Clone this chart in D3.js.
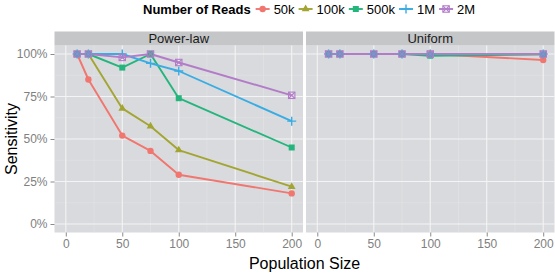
<!DOCTYPE html>
<html><head><meta charset="utf-8">
<script src="https://cdn.jsdelivr.net/npm/d3@7"></script>
<style>
body{margin:0;background:#fff}
svg{display:block;font-family:"Liberation Sans",Arial,Helvetica,sans-serif}
</style>
</head><body>
<svg id="c" width="555" height="274"></svg>
<script>
// ---- data ----
const popSizes = [10, 20, 50, 75, 100, 200];
const readLevels = ["50k", "100k", "500k", "1M", "2M"];
const facets = ["Power-law", "Uniform"];
const powerLaw50k  = [1.00, 0.85, 0.52, 0.43, 0.29, 0.18];
const powerLaw100k = [1.00, 1.00, 0.68, 0.575, 0.435, 0.22];
const powerLaw500k = [1.00, 1.00, 0.92, 1.00, 0.74, 0.45];
const powerLaw1M   = [1.00, 1.00, 1.00, 0.945, 0.90, 0.605];
const powerLaw2M   = [1.00, 1.00, 0.98, 1.00, 0.95, 0.757];
const uniform50k   = [1.00, 1.00, 1.00, 1.00, 1.00, 0.965];
const uniform100k  = [1.00, 1.00, 1.00, 1.00, 1.00, 0.998];
const uniform500k  = [1.00, 1.00, 1.00, 1.00, 0.99, 0.998];
const uniform1M    = [1.00, 1.00, 1.00, 1.00, 1.00, 1.00];
const uniform2M    = [1.00, 1.00, 1.00, 1.00, 1.00, 1.00];
const xTicks = [0, 50, 100, 150, 200];
const yTicks = [0, 0.25, 0.5, 0.75, 1.0];

const facetData = {
  "Power-law": [powerLaw50k, powerLaw100k, powerLaw500k, powerLaw1M, powerLaw2M],
  "Uniform":   [uniform50k, uniform100k, uniform500k, uniform1M, uniform2M]
};

// ---- style ----
const colors = ["#F0766F", "#A3A532", "#24B57D", "#38ACE3", "#B27CC9"];
const shapes = ["circle", "triangle", "square", "plus", "boxx"];

const svg = d3.select("#c");
const panelW = 248.5, panelTop = 45.5, panelBot = 232.5, stripTop = 31.5;
const panelX = [54.5, 306];

const y = d3.scaleLinear().domain([-0.05, 1.05]).range([panelBot, panelTop]);

function drawShape(g, type, col) {
  if (type === "circle") g.append("circle").attr("r", 3.2).attr("fill", col);
  else if (type === "triangle") g.append("path").attr("d", "M0,-4.4L3.9,2.3L-3.9,2.3Z").attr("fill", col);
  else if (type === "square") g.append("rect").attr("x", -3).attr("y", -3).attr("width", 6).attr("height", 6).attr("fill", col);
  else if (type === "plus") g.append("path").attr("d", "M-4.5,0H4.5M0,-4.5V4.5").attr("stroke", col).attr("stroke-width", 1.4).attr("fill", "none");
  else if (type === "boxx") {
    g.append("rect").attr("x", -3.2).attr("y", -3.2).attr("width", 6.4).attr("height", 6.4).attr("fill", "none").attr("stroke", col).attr("stroke-width", 1.1);
    g.append("path").attr("d", "M-3.2,-3.2L3.2,3.2M-3.2,3.2L3.2,-3.2").attr("stroke", col).attr("stroke-width", 1.1);
  }
}

facets.forEach((f, fi) => {
  const x0 = panelX[fi];
  const x = d3.scaleLinear().domain([-10, 210]).range([x0, x0 + panelW]);
  const g = svg.append("g");
  // panel bg
  g.append("rect").attr("x", x0).attr("y", panelTop).attr("width", panelW).attr("height", panelBot - panelTop).attr("fill", "#D9DADD");
  // strip
  g.append("rect").attr("x", x0).attr("y", stripTop).attr("width", panelW).attr("height", panelTop - stripTop).attr("fill", "#C5C6C8");
  g.append("text").attr("x", x0 + panelW / 2).attr("y", stripTop + 11).attr("text-anchor", "middle")
    .attr("font-size", 13).attr("fill", "#1a1a1a").text(f);
  // minor grid
  [25, 75, 125, 175].forEach(v => g.append("line").attr("x1", x(v)).attr("x2", x(v)).attr("y1", panelTop).attr("y2", panelBot).attr("stroke", "#E3E4E6").attr("stroke-width", 0.6));
  [0.125, 0.375, 0.625, 0.875].forEach(v => g.append("line").attr("x1", x0).attr("x2", x0 + panelW).attr("y1", y(v)).attr("y2", y(v)).attr("stroke", "#E3E4E6").attr("stroke-width", 0.6));
  // major grid
  xTicks.forEach(v => g.append("line").attr("x1", x(v)).attr("x2", x(v)).attr("y1", panelTop).attr("y2", panelBot).attr("stroke", "#F4F4F4").attr("stroke-width", 1.1));
  yTicks.forEach(v => g.append("line").attr("x1", x0).attr("x2", x0 + panelW).attr("y1", y(v)).attr("y2", y(v)).attr("stroke", "#F4F4F4").attr("stroke-width", 1.1));

  // x axis
  const xa = g.append("g").attr("transform", `translate(0,${panelBot})`)
    .call(d3.axisBottom(x).tickValues(xTicks).tickSize(4).tickPadding(3).tickFormat(d3.format("d")));
  xa.attr("font-family", null).attr("font-size", null);
  xa.select(".domain").remove();
  xa.selectAll("line").attr("stroke", "#8a8a8a");
  xa.selectAll("text").attr("font-size", 12).attr("fill", "#808080");

  if (fi === 0) {
    const ya = g.append("g").attr("transform", `translate(${x0},0)`)
      .call(d3.axisLeft(y).tickValues(yTicks).tickSize(4).tickPadding(3).tickFormat(d3.format(".0%")));
    ya.attr("font-family", null).attr("font-size", null);
    ya.select(".domain").remove();
    ya.selectAll("line").attr("stroke", "#8a8a8a");
    ya.selectAll("text").attr("font-size", 12).attr("fill", "#808080");
  }

  const series = facetData[f];
  const line = d3.line().x((d, i) => x(popSizes[i])).y(d => y(d));
  series.forEach((s, si) => {
    g.append("path").attr("d", line(s)).attr("fill", "none").attr("stroke", colors[si]).attr("stroke-width", 1.9).attr("stroke-linejoin", "round");
  });
  series.forEach((s, si) => {
    s.forEach((v, i) => {
      const pg = g.append("g").attr("transform", `translate(${x(popSizes[i])},${y(v)})`);
      drawShape(pg, shapes[si], colors[si]);
    });
  });
});

// axis titles
svg.append("text").attr("x", (panelX[0] + panelX[1] + panelW) / 2).attr("y", 269).attr("text-anchor", "middle")
  .attr("font-size", 16).attr("fill", "#000").text("Population Size");
svg.append("text").attr("transform", `translate(17,${(panelTop + panelBot) / 2}) rotate(-90)`).attr("text-anchor", "middle")
  .attr("font-size", 16).attr("fill", "#000").text("Sensitivity");

// legend
const lg = svg.append("g");
const title = lg.append("text").attr("x", 143).attr("y", 13.5).attr("font-size", 13).attr("font-weight", "bold").attr("fill", "#000").text("Number of Reads");
let cx = 143 + title.node().getComputedTextLength() + 5;
readLevels.forEach((r, i) => {
  lg.append("line").attr("x1", cx).attr("x2", cx + 14).attr("y1", 9).attr("y2", 9).attr("stroke", colors[i]).attr("stroke-width", 1.9);
  const pg = lg.append("g").attr("transform", `translate(${cx + 7},9)`);
  drawShape(pg, shapes[i], colors[i]);
  cx += 18;
  const t = lg.append("text").attr("x", cx).attr("y", 13.5).attr("font-size", 13).attr("fill", "#000").text(r);
  cx += t.node().getComputedTextLength() + 4;
});
</script>
</body></html>
